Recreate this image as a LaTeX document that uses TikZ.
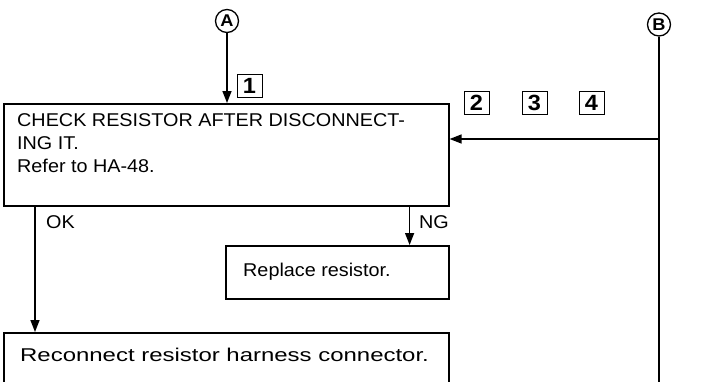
\documentclass[tikz,border=0pt]{standalone}
\usepackage{fontspec}
\setmainfont{Liberation Sans}[FakeStretch=1.07]
\usepackage{graphicx}
\usepackage{tikz}
\usetikzlibrary{positioning,arrows.meta}
\tikzset{
  stepbox/.style = {draw=black, line width=1.6pt, anchor=north west, inner sep=0pt},
  steptxt/.style = {font=\fontsize{18.5}{23}\selectfont, anchor=north west, align=left, inner sep=0pt},
  lineof/.style  = {font=\fontsize{18.5}{23}\selectfont, anchor=base west, inner sep=0pt},
  flow/.style    = {-{Triangle[length=12pt,width=9pt]}, line width=1.4pt},
  wire/.style    = {line width=1.4pt},
  conn/.style    = {circle, draw, line width=1.3pt, minimum size=23pt, inner sep=0pt, font=\bfseries\fontsize{17}{17}\selectfont},
  numbox/.style  = {draw, line width=1pt, minimum width=25pt, minimum height=23pt, inner sep=0pt, font=\bfseries\fontsize{22}{22}\selectfont},
}

\begin{document}
\begin{tikzpicture}[x=1pt,y=-1pt]
  \useasboundingbox (0,0) rectangle (726,381);
  \clip (0,0) rectangle (726,381);

  % check step
  \node[stepbox, minimum width=445pt, minimum height=102pt] (check) at (3,103) {};
  \node[steptxt] (checktxt) at (17,113.5) {CHECK RESISTOR AFTER DISCONNECT-\\ING IT.\\Refer to HA-48.};

  % results
  \node[stepbox, minimum width=223pt, minimum height=53pt] (replace) at (225,245) {};
  \node[lineof] (replacetxt) at (243,276.6) {Replace resistor.};
  \node[stepbox, minimum width=445pt, minimum height=60pt] (reconnect) at (3,332) {};
  \node[lineof] (reconnecttxt) at (20,361.6) {\scalebox{1.21}[1]{Reconnect resistor harness connector.}};

  % entry points
  \node[conn] (A) at (227,21) {A};
  \node[conn] (B) at (659,24.5) {B};
  \node[numbox] (n1) at (249.5,86) {1};
  \node[numbox] (n2) at (476.5,103) {2};
  \node[numbox] (n3) at (534.5,103) {3};
  \node[numbox] (n4) at (591.5,103) {4};

  \draw[flow] (A) -- (A |- check.north);
  \coordinate (Bfoot) at (659,385);
  \coordinate (Bjoin) at (659,139);
  \draw[wire] (B) -- (Bfoot);
  \draw[flow] (Bjoin) -- (Bjoin -| check.east);

  % branches
  \draw[flow] ([xshift=32pt]check.south west) -- ([xshift=32pt]check.south west |- reconnect.north);
  \node[lineof] (ok) at (46,228.6) {OK};
  \draw[flow] ([xshift=-40pt]check.south east) -- ([xshift=-40pt]check.south east |- replace.north);
  \node[lineof] (ng) at (419,228.6) {NG};
\end{tikzpicture}
\end{document}
